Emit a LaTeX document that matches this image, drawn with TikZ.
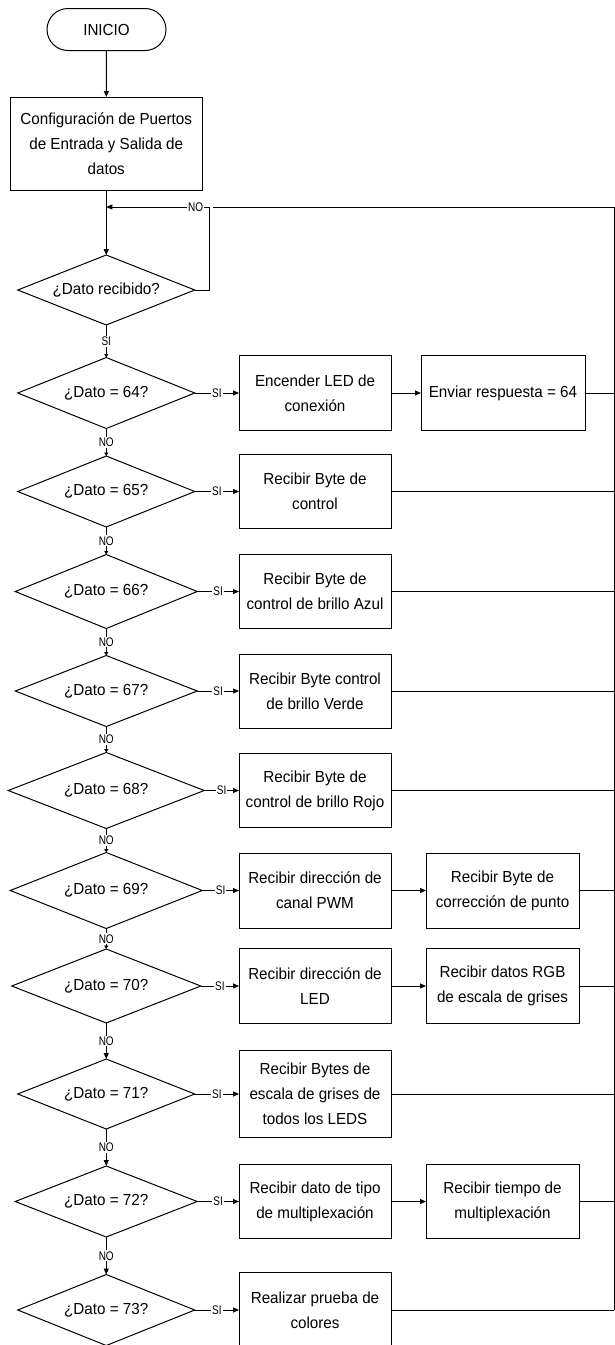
\documentclass[tikz,border=0pt]{standalone}
\usepackage{fontspec}
\setmainfont{Liberation Sans}[FakeStretch=0.95]
\newfontfamily\lblfont{Liberation Sans}[FakeStretch=0.8]
\usetikzlibrary{arrows.meta,shapes.geometric}

\begin{document}
\begin{tikzpicture}[x=1pt,y=-1pt,>={Triangle[length=6pt,width=5pt]},
  font=\fontsize{16}{25}\selectfont,line width=1pt,
  proc/.style={draw,align=center,inner sep=0pt,outer sep=0pt,minimum width=152pt,minimum height=75pt},
  dec/.style={draw,diamond,aspect=2.5,inner sep=0pt,outer sep=0pt,minimum width=177pt,minimum height=71pt},
  lbl/.style={fill=white,inner sep=1pt,font=\lblfont\fontsize{12.5}{13}\selectfont},
  smtip/.style={-{Triangle[length=3.5pt,width=4pt]}}]
\useasboundingbox (0,0) rectangle (614,1345);
\node[draw,rounded corners=21pt,minimum width=119pt,minimum height=42pt,inner sep=0pt,outer sep=0pt] (ini) at (106.5,29.5) {INICIO};
\node[proc,minimum width=191.5pt,minimum height=93pt] (conf) at (106.25,143.5) {Configuración de Puertos\\de Entrada y Salida de\\datos};
\node[dec,minimum height=70pt] (drec) at (106.25,290) {¿Dato recibido?};
\node[dec] (d64) at (106.25,393) {¿Dato = 64?};
\node[dec] (d65) at (106.25,491.5) {¿Dato = 65?};
\node[dec,minimum width=182pt,minimum height=74pt] (d66) at (106.25,591.5) {¿Dato = 66?};
\node[dec,minimum width=182pt] (d67) at (106.25,691) {¿Dato = 67?};
\node[dec,minimum width=196pt,minimum height=76pt] (d68) at (106.25,790.5) {¿Dato = 68?};
\node[dec,minimum width=192pt,minimum height=76pt] (d69) at (106.25,890.5) {¿Dato = 69?};
\node[dec,minimum width=189pt,minimum height=74pt] (d70) at (106.25,986) {¿Dato = 70?};
\node[dec,minimum height=70pt] (d71) at (106.25,1094) {¿Dato = 71?};
\node[dec,minimum width=182pt] (d72) at (106.25,1201.5) {¿Dato = 72?};
\node[dec] (d73) at (106.25,1310) {¿Dato = 73?};
\node[proc] (b64a) at (315,393) {Encender LED de\\conexión};
\node[proc,minimum width=164pt] (b64b) at (503,393) {Enviar respuesta = 64};
\node[proc,minimum height=74pt] (b65) at (315,491.5) {Recibir Byte de\\control};
\node[proc,minimum height=74pt] (b66) at (315,591.5) {Recibir Byte de\\control de brillo Azul};
\node[proc,minimum height=74pt] (b67) at (315,691) {Recibir Byte control\\de brillo Verde};
\node[proc,minimum height=74pt] (b68) at (315,790.5) {Recibir Byte de\\control de brillo Rojo};
\node[proc] (b69a) at (315,890.5) {Recibir dirección de\\canal PWM};
\node[proc,minimum width=153pt] (b69b) at (502.5,890.5) {Recibir Byte de\\corrección de punto};
\node[proc] (b70a) at (315,986) {Recibir dirección de\\LED};
\node[proc,minimum width=153pt] (b70b) at (502.5,986) {Recibir datos RGB\\de escala de grises};
\node[proc,minimum height=86.5pt] (b71) at (315,1094) {Recibir Bytes de\\escala de grises de\\todos los LEDS};
\node[proc,minimum height=74pt] (b72a) at (315,1201.5) {Recibir dato de tipo\\de multiplexación};
\node[proc,minimum width=153pt,minimum height=74pt] (b72b) at (502.5,1201.5) {Recibir tiempo de\\multiplexación};
\node[proc] (b73) at (315,1310) {Realizar prueba de\\colores};
\coordinate (lcorner) at (209,207);
\coordinate (rjoin) at (213,207);
\coordinate (rtop) at (614,207);
\coordinate (rbot) at (614,1310);
\draw[->] (ini) -- (conf);
\draw[->] (conf) -- (drec);
\draw[->] (drec.east) -| (lcorner) -- node[lbl,pos=0.13]{NO} (conf.south |- lcorner);
\draw (rbot) -- (rtop) -- (rjoin);
\draw[smtip] (drec) -- node[lbl]{SI} (d64);
\draw[smtip] (d64) -- node[lbl]{NO} (d65);
\draw[smtip] (d65) -- node[lbl]{NO} (d66);
\draw[smtip] (d66) -- node[lbl]{NO} (d67);
\draw[smtip] (d67) -- node[lbl]{NO} (d68);
\draw[smtip] (d68) -- node[lbl]{NO} (d69);
\draw[smtip] (d69) -- node[lbl]{NO} (d70);
\draw[->] (d70) -- node[lbl]{NO} (d71);
\draw[->] (d71) -- node[lbl]{NO} (d72);
\draw[->] (d72) -- node[lbl]{NO} (d73);
\draw[->] (d64) -- node[lbl]{SI} (b64a);
\draw[->] (d65) -- node[lbl]{SI} (b65);
\draw[->] (d66) -- node[lbl]{SI} (b66);
\draw[->] (d67) -- node[lbl]{SI} (b67);
\draw[->] (d68) -- node[lbl]{SI} (b68);
\draw[->] (d69) -- node[lbl]{SI} (b69a);
\draw[->] (d70) -- node[lbl]{SI} (b70a);
\draw[->] (d71) -- node[lbl]{SI} (b71);
\draw[->] (d72) -- node[lbl]{SI} (b72a);
\draw[->] (d73) -- node[lbl]{SI} (b73);
\draw[->] (b64a) -- (b64b);
\draw[->] (b69a) -- (b69b);
\draw[->] (b70a) -- (b70b);
\draw[->] (b72a) -- (b72b);
\draw (b64b.east) -- (b64b.east -| rtop);
\draw (b65.east) -- (b65.east -| rtop);
\draw (b66.east) -- (b66.east -| rtop);
\draw (b67.east) -- (b67.east -| rtop);
\draw (b68.east) -- (b68.east -| rtop);
\draw (b69b.east) -- (b69b.east -| rtop);
\draw (b70b.east) -- (b70b.east -| rtop);
\draw (b71.east) -- (b71.east -| rtop);
\draw (b72b.east) -- (b72b.east -| rtop);
\draw (b73.east) -- (b73.east -| rtop);
\end{tikzpicture}
\end{document}
